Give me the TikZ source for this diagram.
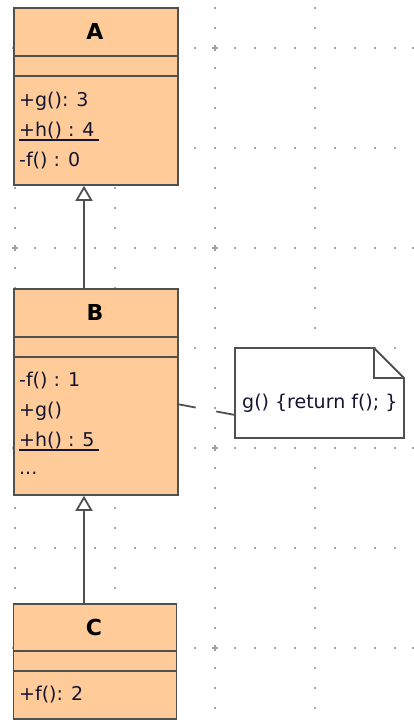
\documentclass[tikz,border=0pt]{standalone}
\usepackage{fontspec}
\setmainfont{DejaVu Sans}
\usetikzlibrary{arrows.meta,calc}
\definecolor{peach}{RGB}{255,204,153}
\definecolor{edge}{RGB}{80,80,80}
\definecolor{ink}{RGB}{20,20,50}
\definecolor{gdot}{RGB}{165,165,165}
\begin{document}
\begin{tikzpicture}[x=1pt,y=-1pt,
  classbox/.style={draw=edge,fill=peach,line width=1.8pt,rectangle,inner sep=0pt,anchor=north west},
  notebox/.style={draw=edge,fill=white,line width=1.8pt},
  sep/.style={draw=edge,line width=1.8pt},
  member/.style={anchor=base west,inner sep=0pt,text=ink,font=\fontsize{19}{22}\selectfont},
  title/.style={inner sep=0pt,text=black,font=\fontsize{22}{24}\selectfont\bfseries},
  uline/.style={draw=ink,line width=1.3pt},
  gen/.style={draw=edge,line width=1.8pt,-{Triangle[open,length=15pt,width=17pt,fill=white]}},
  link/.style={draw=edge,line width=1.8pt,dash pattern=on 19pt off 21pt}]
\useasboundingbox (0,0) rectangle (413,720);
% grid
\foreach \gy in {48,148,...,648}{\foreach \gx in {15,35,...,415}{\fill[gdot] (\gx-1,\gy-1) rectangle +(2,2);}}
\foreach \gx in {15,115,...,415}{\foreach \gy in {8,28,...,708}{\fill[gdot] (\gx-1,\gy-1) rectangle +(2,2);}}
\foreach \gx in {15,215,415}{\foreach \gy in {48,248,448,648}{
  \fill[gdot] (\gx-3,\gy-1) rectangle +(6,2); \fill[gdot] (\gx-1,\gy-3) rectangle +(2,6);}}
% class A
\node[classbox,minimum width=164pt,minimum height=177pt] (A) at (13,7) {};
\draw[sep] (13,56) -- (177,56);
\draw[sep] (13,76) -- (177,76);
\node[title] (At) at (95,31.5) {A};
\node[member] (Ag) at (19,106) {+g(): 3};
\node[member] (Ah) at (19,136) {+h() : 4};
\draw[uline] ($(Ah.base west)+(0,4)$) -- ($(Ah.base east)+(4,4)$);
\node[member] (Af) at (19,166) {-f() : 0};
% class B
\node[classbox,minimum width=164pt,minimum height=206pt] (B) at (13,288) {};
\draw[sep] (13,337) -- (177,337);
\draw[sep] (13,357) -- (177,357);
\node[title] (Bt) at (95,312.5) {B};
\node[member] (Bf) at (19,386) {-f() : 1};
\node[member] (Bg) at (19,416) {+g()};
\node[member] (Bh) at (19,446) {+h() : 5};
\draw[uline] ($(Bh.base west)+(0,4)$) -- ($(Bh.base east)+(4,4)$);
\node[member] (Bd) at (19,474) {...};
% class C
\node[classbox,minimum width=163pt,minimum height=115pt] (C) at (12.5,603) {};
\draw[sep] (12.5,651) -- (175.5,651);
\draw[sep] (12.5,671) -- (175.5,671);
\node[title] (Ct) at (94,627) {C};
\node[member] (Cf) at (19,700) {+f(): 2};
% note
\draw[notebox] (235,348) -- (374,348) -- (404,378) -- (404,438) -- (235,438) -- cycle;
\draw[sep] (374,348) -- (374,378) -- (404,378);
\node[member] (N) at (242,408) {g() \{return f(); \}};
\coordinate (nl) at (235,415);
\coordinate (br) at (177,404);
\draw[link] (br) -- (nl);
% generalizations
\coordinate (gx) at (84,0);
\draw[gen] (B.north -| gx) -- (A.south -| gx);
\draw[gen] (C.north -| gx) -- (B.south -| gx);
\end{tikzpicture}
\end{document}
